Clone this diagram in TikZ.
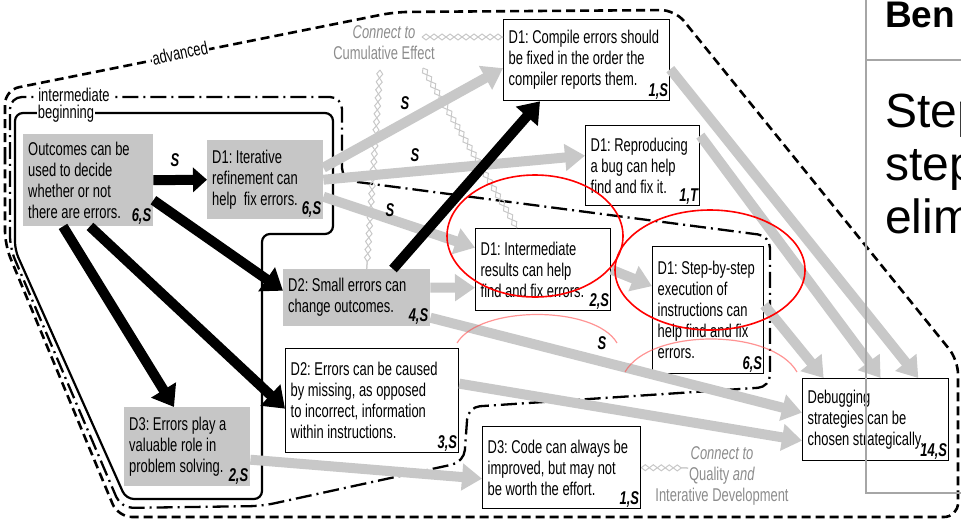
\documentclass[tikz,border=0pt]{standalone}
\usepackage{fontspec}
\setmainfont{Liberation Sans}[FakeStretch=0.70]
\newfontfamily\slidefont{Liberation Sans}
\usetikzlibrary{arrows.meta, decorations.pathmorphing}
\definecolor{boxgrey}{RGB}{198,198,198}
\definecolor{arrowgrey}{RGB}{200,200,200}
\definecolor{chaingrey}{RGB}{200,200,200}
\definecolor{notegrey}{RGB}{140,140,140}
\definecolor{framegrey}{RGB}{166,166,166}
\frenchspacing

\begin{document}
\begin{tikzpicture}[x=1pt, y=-1pt,
      every node/.style={font=\fontsize{18.5}{21}\selectfont},
      greybox/.style={rectangle, fill=boxgrey, anchor=north west, align=flush left, inner xsep=5pt, inner ysep=3pt},
      whitebox/.style={rectangle, draw, line width=1.3pt, fill=white, anchor=north west, align=flush left, inner xsep=5pt, inner ysep=3pt},
      tag/.style={anchor=south east, inner sep=2pt, font=\fontsize{18.5}{18.5}\selectfont\bfseries\itshape},
      rel/.style={inner sep=1pt, font=\fontsize{18.5}{18.5}\selectfont\bfseries\itshape},
      note/.style={text=notegrey, align=flush center},
      bandlabel/.style={fill=white, inner sep=1pt},
      greyarrow/.style={draw=arrowgrey, line width=10pt, -{Triangle[length=20pt, width=26pt]}},
      blackarrow/.style={draw=black, line width=10pt, -{Triangle[length=20pt, width=28pt]}},
      chain/.style={postaction={draw=chaingrey, line width=1pt, decorate, decoration={zigzag, amplitude=3pt, segment length=16pt}},
                    postaction={draw=chaingrey, line width=1pt, decorate, decoration={zigzag, mirror, amplitude=3pt, segment length=16pt}}},
      advline/.style={draw, line width=2.6pt, dash pattern=on 9pt off 5pt, rounded corners=14pt},
      interline/.style={draw, line width=2.3pt, dash pattern=on 16pt off 5pt on 2pt off 5pt, rounded corners=12pt},
      beginline/.style={draw, line width=2.2pt, rounded corners=8pt},
      redmark/.style={draw=red, line width=1.6pt},
      fadedred/.style={draw=red!70, line width=1.2pt, opacity=0.6},
      slidetext/.style={anchor=base west, inner sep=0pt}]

      \useasboundingbox (0,0) rectangle (961,520);

      % Levels
      \draw[advline] (5,170) -- (5,90) -- (395,12) -- (675,10) -- (958,360) -- (958,517) -- (118,517) -- (5,245) -- cycle;
      \draw[interline] (10,170) -- (10,97) -- (342,97) -- (342,180) -- (770,236) -- (770,387) -- (468,407) -- (464,462) -- (262,506) -- (121,508) -- (10,248) -- cycle;
      \draw[beginline] (15,170) -- (15,113) -- (333,113) -- (333,234) -- (262,234) -- (262,499) -- (126,499) -- (15,250) -- cycle;

      \node[bandlabel, rotate=12] (advlabel) at (180,53) {advanced};
      \node[bandlabel] (interlabel) at (74,95) {intermediate};
      \node[bandlabel] (beglabel) at (66,114) {beginning};

      % Ideas
      \node[greybox, text width=120pt, minimum height=92pt, label={[tag]south east:6,S}] (outcomes) at (23,134) {Outcomes can be\\used to decide\\whether or not\\there are errors.};
      \node[greybox, text width=106pt, minimum height=79pt, label={[tag]south east:6,S}] (iterative) at (207,140) {D1: Iterative\\refinement can\\help\ \ fix errors.};
      \node[whitebox, text width=156pt, minimum height=81pt, label={[tag]south east:1,S}] (compile) at (503,19) {D1: Compile errors should\\be fixed in the order the\\compiler reports them.};
      \node[whitebox, text width=104pt, minimum height=80pt, label={[tag]south east:1,T}] (reproduce) at (585,125) {D1: Reproducing\\a bug can help\\find and fix it.};
      \node[whitebox, text width=125pt, minimum height=82pt, label={[tag]south east:2,S}] (interm) at (475,228) {D1: Intermediate\\results can help\\find and fix errors.};
      \node[whitebox, text width=101pt, minimum height=127pt, label={[tag]south east:6,S}] (stepexec) at (652,246) {D1: Step-by-step\\execution of\\instructions can\\help find and fix\\errors.};
      \node[whitebox, text width=136pt, minimum height=82pt, label={[tag]south east:14,S}] (debug) at (802,378) {Debugging\\strategies can be\\chosen strategically.};
      \node[greybox, text width=137pt, minimum height=57pt, label={[tag]south east:4,S}] (smallerr) at (283,269) {D2: Small errors can\\change outcomes.};
      \node[whitebox, text width=163pt, minimum height=104pt, label={[tag]south east:3,S}] (missing) at (285,348) {D2: Errors can be caused\\by missing, as opposed\\to incorrect, information\\within instructions.};
      \node[greybox, text width=116pt, minimum height=79pt, label={[tag]south east:2,S}] (valuable) at (124,407) {D3: Errors play a\\valuable role in\\problem solving.};
      \node[whitebox, text width=148pt, minimum height=82pt, label={[tag]south east:1,S}] (improve) at (482,426) {D3: Code can always be\\improved, but may not\\be worth the effort.};

      % Connections to other concepts
      \node[note] (cumul) at (384,43) {\textit{Connect to}\\Cumulative Effect};
      \node[note] (quality) at (722,476) {\textit{Connect to}\\Quality \textit{and}\\Interative Development};
      \coordinate (cumulA) at (380,70);
      \coordinate (cumulB) at (423,68);
      \coordinate (cumulC) at (422,37);
      \coordinate (qualityW) at (688,468);
      \path[chain] (cumulC) -- (compile.west |- cumulC);
      \path[chain] (cumulA) -- ([xshift=10pt]smallerr.north);
      \path[chain] (cumulB) -- ([xshift=42pt]interm.north west);
      \path[chain] (improve.east) -- (qualityW);

      % Grey arrows
      \draw[greyarrow] ([yshift=12pt]iterative.east) -- ([yshift=-8pt]compile.west);
      \draw[greyarrow] (iterative.east) -- ([yshift=10pt]reproduce.west);
      \draw[greyarrow] ([yshift=-17pt]iterative.east) -- ([yshift=22pt]interm.west);
      \draw[greyarrow] ([yshift=10pt]smallerr.east) -- ([yshift=-18pt]interm.west);
      \draw[greyarrow] ([yshift=-20pt]smallerr.east) -- ([yshift=7pt]debug.west);
      \draw[greyarrow] ([yshift=17pt]missing.east) -- ([yshift=-21pt]debug.west);
      \draw[greyarrow] ([yshift=-13pt]valuable.east) -- ([yshift=-11pt]improve.west);
      \draw[greyarrow] (interm.east) -- ([yshift=24pt]stepexec.west);
      \draw[greyarrow] ([yshift=-9pt]compile.east) -- ([xshift=-31pt]debug.north east);
      \draw[greyarrow] ([yshift=30pt]reproduce.east) -- ([xshift=5pt]debug.north);
      \draw[greyarrow] ([yshift=5pt]stepexec.east) -- ([xshift=-52pt]debug.north);

      % Black arrows
      \draw[blackarrow, -{Triangle[length=14pt, width=24pt]}] (outcomes.east) -- (iterative.west);
      \draw[blackarrow] ([yshift=-20pt]outcomes.east) -- ([yshift=7pt]smallerr.west);
      \draw[blackarrow] ([xshift=67pt]outcomes.south west) -- ([yshift=-8pt]missing.west);
      \draw[blackarrow] ([xshift=40pt]outcomes.south west) -- ([xshift=50pt]valuable.north west);
      \draw[blackarrow] ([xshift=110pt]smallerr.north west) -- ([xshift=37pt]compile.south west);

      % Relation labels
      \node[rel] (s1) at (175,160) {S};
      \node[rel] (s2) at (405,103) {S};
      \node[rel] (s3) at (415,155) {S};
      \node[rel] (s4) at (390,210) {S};
      \node[rel] (s5) at (602,343) {S};

      % Marks
      \draw[fadedred] (457,343) .. controls (480,305) and (595,305) .. (617,343);
      \draw[fadedred] (625,372) .. controls (650,328) and (772,328) .. (797,372);
      \draw[redmark] (535,236) ellipse [x radius=88pt, y radius=61pt];
      \draw[redmark] (710,270) ellipse [x radius=95pt, y radius=60pt];

      % Slide
      \draw[framegrey, line width=1.5pt] (866,0) -- (866,493) -- (961,493);
      \draw[framegrey, line width=1.5pt] (866,60) -- (961,60);
      \node[slidetext, font=\slidefont\fontsize{37}{37}\selectfont\bfseries] (bentitle) at (885,27) {Ben};
      \node[slidetext, font=\slidefont\fontsize{48}{52}\selectfont] (stepa) at (885,127) {Step};
      \node[slidetext, font=\slidefont\fontsize{48}{52}\selectfont] (stepb) at (885,180) {step};
      \node[slidetext, font=\slidefont\fontsize{48}{52}\selectfont] (elim) at (885,233) {elim};
    \end{tikzpicture}
\end{document}
